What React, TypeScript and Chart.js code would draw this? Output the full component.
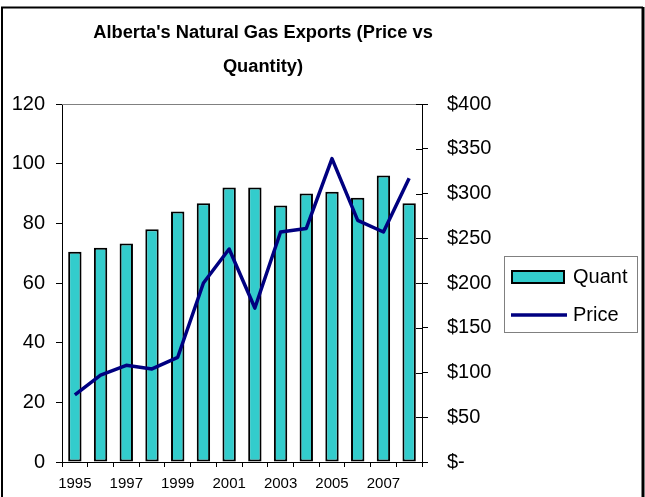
import React, { useEffect, useRef } from "react";
import { Chart, registerables } from "chart.js";

Chart.register(...registerables);

const years = ["1995", "1996", "1997", "1998", "1999", "2000", "2001", "2002", "2003", "2004", "2005", "2006", "2007", "2008"];
const quant = [70.5, 71.8, 73.2, 78, 84, 86.7, 92, 92, 86, 90, 90.6, 88.6, 96, 86.7];
const price = [75, 97, 108, 104, 117, 200, 238, 172, 257, 261, 339, 270, 257, 317];
const leftTicks = [0, 20, 40, 60, 80, 100, 120];
const rightTicks = [0, 50, 100, 150, 200, 250, 300, 350, 400];
const titleLines = ["Alberta's Natural Gas Exports (Price vs", "Quantity)"];
const legendLabels = ["Quant", "Price"];

const FONT = "'Liberation Sans', Arial, sans-serif";
const BAR_COLOR = "#33CCCC";
const LINE_COLOR = "#000080";

const decorPlugin = {
  id: "decor",
  beforeDraw(chart: any) {
    const ctx = chart.ctx;
    ctx.save();
    ctx.fillStyle = "#ffffff";
    ctx.fillRect(0, 0, chart.width, chart.height);
    ctx.restore();
  },
  afterDraw(chart: any) {
    const ctx = chart.ctx;
    const a = chart.chartArea;
    ctx.save();
    // plot area top border
    ctx.strokeStyle = "#808080";
    ctx.lineWidth = 1;
    ctx.beginPath();
    ctx.moveTo(a.left, Math.round(a.top) + 0.5);
    ctx.lineTo(a.right, Math.round(a.top) + 0.5);
    ctx.stroke();
    // right axis inner tick halves
    const y1 = chart.scales.y1;
    ctx.strokeStyle = "#000";
    ctx.beginPath();
    y1.ticks.forEach((t: any) => {
      const py = Math.round(y1.getPixelForValue(t.value)) + 0.5;
      ctx.moveTo(a.right - 6, py);
      ctx.lineTo(a.right, py);
    });
    ctx.stroke();
    // title
    ctx.fillStyle = "#000";
    ctx.font = `bold 18.3px ${FONT}`;
    ctx.textAlign = "center";
    ctx.textBaseline = "alphabetic";
    ctx.fillText(titleLines[0], 263, 38);
    ctx.fillText(titleLines[1], 263, 72);
    // legend
    ctx.strokeStyle = "#808080";
    ctx.lineWidth = 1;
    ctx.strokeRect(504.5, 256.5, 133, 76);
    ctx.fillStyle = BAR_COLOR;
    ctx.fillRect(512, 271, 52, 12);
    ctx.strokeStyle = "#000";
    ctx.lineWidth = 2;
    ctx.strokeRect(512, 271, 52, 12);
    ctx.strokeStyle = LINE_COLOR;
    ctx.lineWidth = 3.5;
    ctx.beginPath();
    ctx.moveTo(511, 315);
    ctx.lineTo(567, 315);
    ctx.stroke();
    ctx.fillStyle = "#000";
    ctx.font = `20px ${FONT}`;
    ctx.textAlign = "left";
    ctx.textBaseline = "middle";
    ctx.fillText(legendLabels[0], 573, 277);
    ctx.fillText(legendLabels[1], 573, 315);
    // outer frame
    ctx.strokeStyle = "#000";
    ctx.lineWidth = 2;
    ctx.beginPath();
    ctx.moveTo(2, 520);
    ctx.lineTo(2, 7.5);
    ctx.lineTo(643, 7.5);
    ctx.stroke();
    ctx.lineWidth = 3;
    ctx.beginPath();
    ctx.moveTo(643, 7);
    ctx.lineTo(643, 520);
    ctx.stroke();
    ctx.restore();
  },
};

export default function App() {
  const ref = useRef<HTMLCanvasElement | null>(null);
  useEffect(() => {
    if (!ref.current) return;
    const chart = new Chart(ref.current, {
      type: "bar",
      data: {
        labels: years,
        datasets: [
          {
            type: "line",
            label: legendLabels[1],
            data: price,
            yAxisID: "y1",
            borderColor: LINE_COLOR,
            borderWidth: 3.5,
            pointRadius: 0,
            tension: 0,
            fill: false,
            order: 0,
            borderJoinStyle: "round",
          } as any,
          {
            type: "bar",
            label: legendLabels[0],
            data: quant,
            yAxisID: "y",
            backgroundColor: BAR_COLOR,
            borderColor: "#000",
            borderWidth: 2,
            borderSkipped: false,
            barPercentage: 0.52,
            categoryPercentage: 1,
            order: 1,
          } as any,
        ],
      },
      options: {
        responsive: false,
        animation: false,
        devicePixelRatio: 1,
        layout: { padding: { left: 0, right: 0, top: 104, bottom: 0 } },
        plugins: {
          legend: { display: false },
          title: { display: false },
          tooltip: { enabled: false },
        },
        scales: {
          x: {
            offset: true,
            grid: { display: true, drawOnChartArea: false, drawTicks: true, tickLength: 5, offset: true, color: "#000" },
            border: { display: true, color: "#000", width: 1 },
            ticks: {
              autoSkip: false,
              maxRotation: 0,
              minRotation: 0,
              padding: 8,
              color: "#000",
              font: { family: FONT, size: 15 },
              callback: (_v: any, i: number) => (i % 2 === 0 ? years[i] : ""),
            },
            afterFit: (s: any) => {
              s.height = 35;
            },
          },
          y: {
            position: "left",
            min: 0,
            max: 120,
            afterBuildTicks: (s: any) => {
              s.ticks = leftTicks.map((v) => ({ value: v }));
            },
            grid: { display: true, drawOnChartArea: false, drawTicks: true, tickLength: 6, color: "#000" },
            border: { display: true, color: "#000", width: 1 },
            ticks: { color: "#000", padding: 11, font: { family: FONT, size: 20 } },
            afterFit: (s: any) => {
              s.width = 62;
            },
          },
          y1: {
            position: "right",
            min: 0,
            max: 400,
            afterBuildTicks: (s: any) => {
              s.ticks = rightTicks.map((v) => ({ value: v }));
            },
            grid: { display: true, drawOnChartArea: false, drawTicks: true, tickLength: 6, color: "#000" },
            border: { display: true, color: "#000", width: 1 },
            ticks: {
              color: "#000",
              padding: 19,
              font: { family: FONT, size: 20 },
              callback: (v: any) => (Number(v) === 0 ? "$-" : "$" + v),
            },
            afterFit: (s: any) => {
              s.width = 223;
            },
          },
        },
      },
      plugins: [decorPlugin],
    });
    return () => chart.destroy();
  }, []);
  return (
    <div style={{ position: "absolute", left: 0, top: 0, width: 645, height: 497 }}>
      <canvas ref={ref} width={645} height={497} style={{ display: "block" }} />
    </div>
  );
}
